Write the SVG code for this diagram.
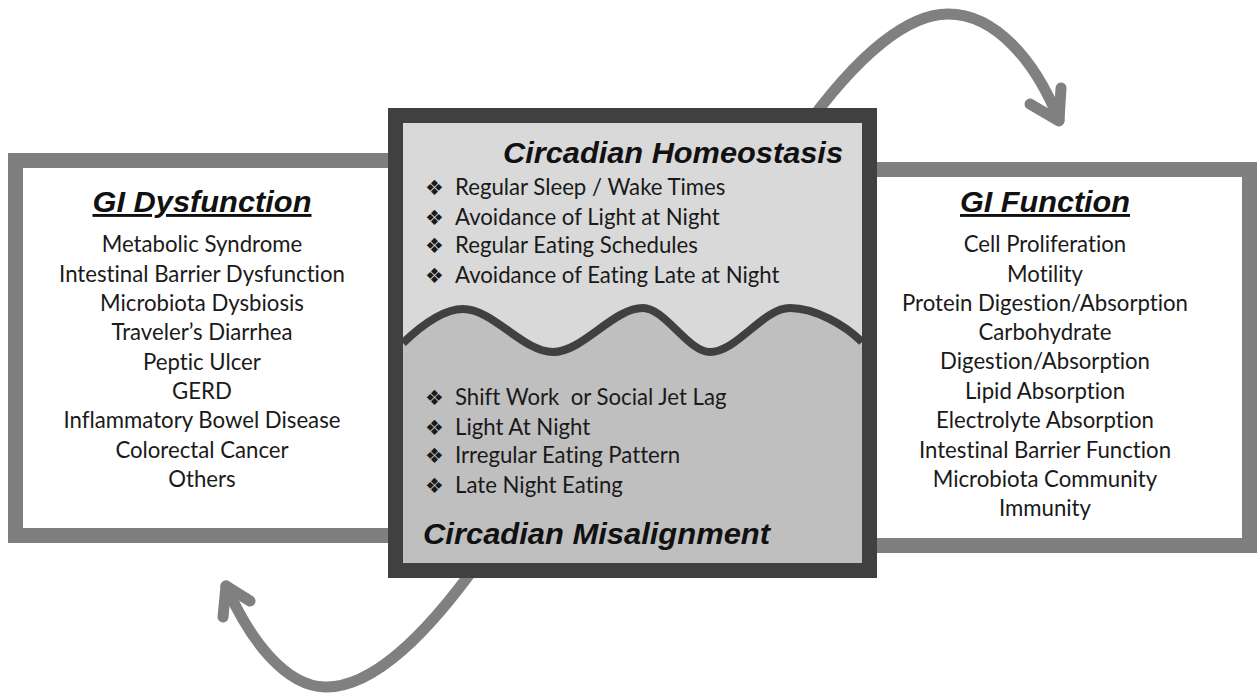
<svg xmlns="http://www.w3.org/2000/svg" width="1259" height="696" viewBox="0 0 1259 696">
<style>
.box{fill:#ffffff;stroke:#7f7f7f;stroke-width:15}
.arrow{fill:none;stroke:#808080;stroke-width:11;stroke-linecap:round;stroke-linejoin:round}
.title{font-family:"Liberation Sans",Arial,sans-serif;font-weight:bold;font-style:italic;font-size:29px;fill:#111}
.item{font-family:Lato,"Open Sans",sans-serif;font-size:22.2px;fill:#1a1a1a;text-anchor:middle;font-variant-ligatures:none}
.bl{font-family:Lato,"Open Sans",sans-serif;font-size:22.2px;fill:#1a1a1a;font-variant-ligatures:none}
.bul{font-family:"DejaVu Sans",sans-serif;font-size:21px;fill:#1a1a1a}
</style>
<rect width="1259" height="696" fill="#ffffff"/>
<g id="connectors">
<path class="arrow" d="M800,135 C860,50 910,14 948,14 C995,14 1035,60 1059,120"/>
<polyline class="arrow" points="1030,104 1059,121 1061,88"/>
<path class="arrow" d="M480,560 C430,630 375,688 325,687 C285,686 250,640 226,586"/>
<polyline class="arrow" points="223,617 226,586 250,601"/>
</g>
<g id="gi-dysfunction">
<rect class="box" x="15.5" y="160.5" width="385" height="375"/>
<text class="title" x="202" y="212" text-anchor="middle" text-decoration="underline" textLength="219" lengthAdjust="spacingAndGlyphs">GI Dysfunction</text>
<text class="item" x="202" y="252">Metabolic Syndrome</text>
<text class="item" x="202" y="282">Intestinal Barrier Dysfunction</text>
<text class="item" x="202" y="311">Microbiota Dysbiosis</text>
<text class="item" x="202" y="340">Traveler’s Diarrhea</text>
<text class="item" x="202" y="370">Peptic Ulcer</text>
<text class="item" x="202" y="399">GERD</text>
<text class="item" x="202" y="428">Inflammatory Bowel Disease</text>
<text class="item" x="202" y="458">Colorectal Cancer</text>
<text class="item" x="202" y="487">Others</text>
</g>
<g id="gi-function">
<rect class="box" x="860" y="169.5" width="389.5" height="376"/>
<text class="title" x="1045" y="212" text-anchor="middle" text-decoration="underline" textLength="170" lengthAdjust="spacingAndGlyphs">GI Function</text>
<text class="item" x="1045" y="252">Cell Proliferation</text>
<text class="item" x="1045" y="282">Motility</text>
<text class="item" x="1045" y="311">Protein Digestion/Absorption</text>
<text class="item" x="1045" y="340">Carbohydrate</text>
<text class="item" x="1045" y="369">Digestion/Absorption</text>
<text class="item" x="1045" y="399">Lipid Absorption</text>
<text class="item" x="1045" y="428">Electrolyte Absorption</text>
<text class="item" x="1045" y="458">Intestinal Barrier Function</text>
<text class="item" x="1045" y="487">Microbiota Community</text>
<text class="item" x="1045" y="516">Immunity</text>
</g>
<g id="circadian">
<rect x="395.5" y="115.5" width="474" height="455" fill="#bfbfbf" stroke="#404040" stroke-width="15"/>
<path d="M403,123 L862,123 L862,342 C845,325 815,308 790,308 C763,308 737,352 710,352 C688,352 665,308 643,308 C613,308 583,352 553,352 C523,352 493,309 463,309 C445,309 425,322 403,343 Z" fill="#d9d9d9"/>
<path d="M403,343 C425,322 445,309 463,309 C493,309 523,352 553,352 C583,352 613,308 643,308 C665,308 688,352 710,352 C737,352 763,308 790,308 C815,308 845,325 862,342" fill="none" stroke="#404040" stroke-width="8"/>
<text class="title" x="843" y="163" text-anchor="end" textLength="340" lengthAdjust="spacingAndGlyphs">Circadian Homeostasis</text>
<text class="bul" x="425" y="195">❖</text><text class="bl" x="455" y="195">Regular Sleep / Wake Times</text>
<text class="bul" x="425" y="225">❖</text><text class="bl" x="455" y="225">Avoidance of Light at Night</text>
<text class="bul" x="425" y="253">❖</text><text class="bl" x="455" y="253">Regular Eating Schedules</text>
<text class="bul" x="425" y="283">❖</text><text class="bl" x="455" y="283">Avoidance of Eating Late at Night</text>
<text class="bul" x="425" y="405">❖</text><text class="bl" x="455" y="405" xml:space="preserve">Shift Work  or Social Jet Lag</text>
<text class="bul" x="425" y="435">❖</text><text class="bl" x="455" y="435">Light At Night</text>
<text class="bul" x="425" y="463">❖</text><text class="bl" x="455" y="463">Irregular Eating Pattern</text>
<text class="bul" x="425" y="493">❖</text><text class="bl" x="455" y="493">Late Night Eating</text>
<text class="title" x="423" y="544" textLength="347" lengthAdjust="spacingAndGlyphs">Circadian Misalignment</text>
</g>
</svg>
